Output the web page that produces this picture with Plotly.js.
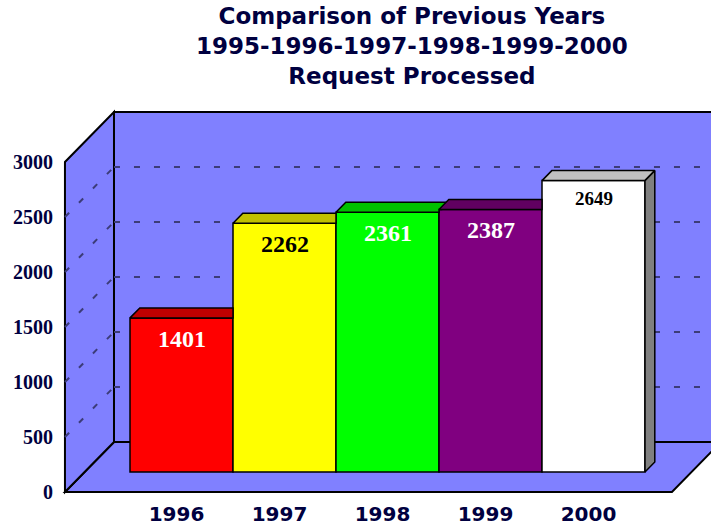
<!DOCTYPE html>
<html>
<head>
<meta charset="utf-8">
<script src="https://cdn.plot.ly/plotly-3.0.1.min.js"></script>
<style>html,body{margin:0;padding:0;background:#fff;}#chart{width:711px;height:529px;}</style>
</head>
<body>
<div id="chart"></div>
<script>
// ---- data ----
const years = ['1996', '1997', '1998', '1999', '2000'];
const requests = [1401, 2262, 2361, 2387, 2649];
const yTicks = [0, 500, 1000, 1500, 2000, 2500, 3000];
const titleLines = ['Comparison of Previous Years', '1995-1996-1997-1998-1999-2000', 'Request Processed'];

// ---- styles ----
const frontColors = ['#FF0000', '#FFFF00', '#00FF00', '#800080', '#FFFFFF'];
const topColors = ['#C00000', '#C0C000', '#00C000', '#600060', '#C0C0C0'];
const sideColors = ['#800000', '#808000', '#008000', '#400040', '#808080'];
const labelColors = ['#FFFFFF', '#000000', '#FFFFFF', '#FFFFFF', '#000000'];
const labelSizes = [24, 24, 24, 24, 19];
const wallColor = '#8080FF';
const navy = '#000040';
const gridDash = { color: '#3C3C78', width: 2, dash: '6px,14px' };

// ---- 3D projection geometry (bar plane sits at depth 0.4 of the box) ----
const DEPTH_X = 0.476;   // x-units for full depth
const DEPTH_Y = 454.5;   // y-units for full depth
const BAR_FRONT = 0.4, BAR_BACK = 0.6;
const X_LEFT = -0.941, X_RIGHT = 4.952, Y_MAX = 3000;
function P(x, v, f) { return [x + DEPTH_X * (f - BAR_FRONT), v + DEPTH_Y * (f - BAR_FRONT)]; }
function path(pts) { return 'M' + pts.map(p => p[0] + ',' + p[1]).join(' L') + ' Z'; }
function line(pts) { return 'M' + pts.map(p => p[0] + ',' + p[1]).join(' L'); }

const dx = DEPTH_X * (BAR_BACK - BAR_FRONT), dy = DEPTH_Y * (BAR_BACK - BAR_FRONT);

// ---- traces ----
const traces = [{
  type: 'bar', x: years.map((_, i) => i), y: requests, width: 1,
  marker: { color: frontColors, line: { color: '#000', width: 1.5 } },
  hoverinfo: 'x+y', showlegend: false
}];

requests.forEach((h, i) => {
  const L = i - 0.5, R = i + 0.5;
  const hn = i < requests.length - 1 ? requests[i + 1] : null;
  let top;
  if (hn !== null && hn >= h + dy) top = [[L, h], [R, h], [R, h + dy], [L + dx, h + dy]];
  else if (hn !== null && hn > h) top = [[L, h], [R, h], [R, hn], [R + dx * (hn - h) / dy, hn], [R + dx, h + dy], [L + dx, h + dy]];
  else top = [[L, h], [R, h], [R + dx, h + dy], [L + dx, h + dy]];
  top.push(top[0]);
  traces.push({
    type: 'scatter', mode: 'lines', x: top.map(p => p[0]), y: top.map(p => p[1]),
    fill: 'toself', fillcolor: topColors[i], line: { color: '#000', width: 1.5 },
    hoverinfo: 'skip', showlegend: false
  });
  if (hn === null || hn < h) {
    const lo = hn === null ? 0 : hn;
    const side = [[R, lo], [R, h], [R + dx, h + dy], [R + dx, lo + dy], [R, lo]];
    traces.push({
      type: 'scatter', mode: 'lines', x: side.map(p => p[0]), y: side.map(p => p[1]),
      fill: 'toself', fillcolor: sideColors[i], line: { color: '#000', width: 1.5 },
      hoverinfo: 'skip', showlegend: false
    });
  }
});

// front-plane offset for y tick labels
const front = P(0, 0, 0)[1];
const Y_RANGE = [-518.18, 4290.91];

// invisible trace that carries the front-plane value axis
traces.push({
  type: 'scatter', mode: 'markers', x: yTicks.map(() => X_LEFT), y: yTicks, yaxis: 'y2',
  marker: { opacity: 0, size: 1 }, hoverinfo: 'skip', showlegend: false
});

// ---- walls ----
const shapes = [];
const wallLine = { color: '#000', width: 2 };
shapes.push({ type: 'path', xref: 'x', yref: 'y', layer: 'below', fillcolor: wallColor, line: wallLine,
  path: path([P(X_LEFT, 0, 0), P(X_RIGHT, 0, 0), P(X_RIGHT, 0, 1), P(X_LEFT, 0, 1)]) });
shapes.push({ type: 'path', xref: 'x', yref: 'y', layer: 'below', fillcolor: wallColor, line: wallLine,
  path: path([P(X_LEFT, 0, 1), P(X_RIGHT, 0, 1), P(X_RIGHT, Y_MAX, 1), P(X_LEFT, Y_MAX, 1)]) });
shapes.push({ type: 'path', xref: 'x', yref: 'y', layer: 'below', fillcolor: wallColor, line: wallLine,
  path: path([P(X_LEFT, 0, 0), P(X_LEFT, 0, 1), P(X_LEFT, Y_MAX, 1), P(X_LEFT, Y_MAX, 0)]) });
yTicks.filter(v => v > 0 && v < Y_MAX).forEach(v => {
  shapes.push({ type: 'path', xref: 'x', yref: 'y', layer: 'below', line: gridDash,
    path: line([P(X_LEFT, v, 1), P(X_RIGHT, v, 1)]) });
  shapes.push({ type: 'path', xref: 'x', yref: 'y', layer: 'below', line: gridDash,
    path: line([P(X_LEFT, v, 0), P(X_LEFT, v, 1)]) });
});

// ---- value labels + title ----
const annotations = requests.map((v, i) => ({
  x: i, y: v, xref: 'x', yref: 'y', text: String(v), showarrow: false,
  yanchor: 'middle', yshift: labelSizes[i] > 20 ? -21 : -18,
  font: { family: 'Liberation Serif', size: labelSizes[i], color: labelColors[i], weight: 'bold' }
}));
annotations.push({
  xref: 'paper', yref: 'paper', x: 412 / 711, y: 1, yshift: -1, xanchor: 'center', yanchor: 'top',
  text: titleLines.join('<br>'), showarrow: false,
  font: { family: 'DejaVu Sans', size: 23, color: navy, weight: 'bold' }
});

const layout = {
  width: 711, height: 529,
  margin: { l: 0, r: 0, t: 0, b: 0 },
  paper_bgcolor: '#fff', plot_bgcolor: 'rgba(0,0,0,0)',
  showlegend: false,
  xaxis: {
    range: [-1.7621, 5.1408], domain: [0, 1], anchor: 'free', position: 0.055,
    tickvals: years.map((_, i) => i), ticktext: years, ticks: '', ticklabelshift: -5,
    showgrid: false, zeroline: false, showline: false, fixedrange: true,
    tickfont: { family: 'DejaVu Sans', size: 20, color: navy, weight: 'bold' }
  },
  yaxis: {
    range: Y_RANGE, showticklabels: false, showgrid: false, zeroline: false, showline: false, fixedrange: true
  },
  yaxis2: {
    overlaying: 'y', anchor: 'free', position: 65 / 711, side: 'left',
    range: [Y_RANGE[0] - front, Y_RANGE[1] - front],
    tickvals: yTicks, ticks: '', ticklabelstandoff: 12,
    showgrid: false, zeroline: false, showline: false, fixedrange: true,
    tickfont: { family: 'Liberation Serif', size: 20, color: navy, weight: 'bold' }
  },
  shapes: shapes,
  annotations: annotations,
  bargap: 0
};

Plotly.newPlot('chart', traces, layout, { displayModeBar: false, staticPlot: true });
</script>
</body>
</html>
